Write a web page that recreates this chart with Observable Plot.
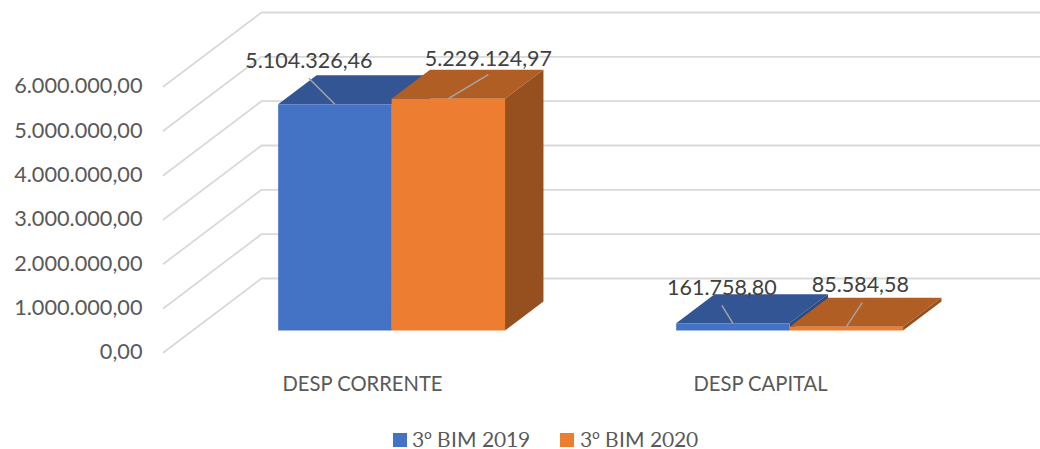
<!DOCTYPE html>
<html>
<head>
<meta charset="utf-8">
<script src="https://cdn.jsdelivr.net/npm/d3@7"></script>
<script src="https://cdn.jsdelivr.net/npm/@observablehq/plot@0.6"></script>
<style>
@font-face{font-family:LegendFace;src:local("Lato"),local("Lato Regular");ascent-override:90%;descent-override:6%}
@font-face{font-family:LegendFace;src:local("Noto Sans"),local("Noto Sans Regular");unicode-range:U+BA;ascent-override:90%;descent-override:6%}
html,body{margin:0;padding:0;background:#fff;overflow:hidden;width:1040px;height:449px}
#legend{position:relative;height:29px;font:20.8px LegendFace,Lato,sans-serif;color:#595959}
#legend .t{position:absolute;top:8px;line-height:21px;white-space:nowrap}
#legend i{position:absolute;top:13px;width:14px;height:14px}
</style>
</head>
<body>
<div id="chart"></div>
<div id="legend"></div>
<script>
const categories = ["DESP CORRENTE", "DESP CAPITAL"];
const seriesNames = ["3º BIM 2019", "3º BIM 2020"];
const values2019 = [5104326.46, 161758.80];
const values2020 = [5229124.97, 85584.58];
const yTicks = [0, 1000000, 2000000, 3000000, 4000000, 5000000, 6000000];

// layout of the oblique "3D" projection
const W = 1040, H = 420, mL = 163, mR = 81, mT = 86, mB = H - 352;
const xMax = categories.length, yMax = 6000000;
const pxPerX = (W - mL - mR) / xMax, pxPerY = (H - mT - mB) / yMax;
const depthX = 98 / pxPerX, depthY = 74 / pxPerY;   // full floor depth in data units
const barFront = 0.297, barBack = 0.689, barW = 0.285;
const project = (x, v, d) => ({x: x + d * depthX, y: v + d * depthY});
const wallEnd = xMax + 0.1;

const shades = [
  {front: "#4472C4", top: "#335593", side: "#2A4A80"},
  {front: "#ED7D31", top: "#B15E24", side: "#964F1E"}
];
const series = [values2019, values2020];

// Back wall and left wall gridlines
const grid = yTicks.flatMap(v => [
  {v, ...project(0, v, 0)},
  {v, ...project(0, v, 1)},
  {v, ...project(wallEnd, v, 1)}
]);

// Box faces, drawn series by series
const faces = [];
const anchors = [];
categories.forEach((c, ci) => {
  series.forEach((vals, si) => {
    const v = vals[ci];
    const x0 = ci + 0.5 - barW + si * barW, x1 = x0 + barW;
    const add = (name, color, pts) => pts.forEach(p => faces.push({id: `${ci}-${si}-${name}`, color, ...p}));
    add("top", shades[si].top, [project(x0, v, barFront), project(x1, v, barFront), project(x1, v, barBack), project(x0, v, barBack)]);
    add("side", shades[si].side, [project(x1, 0, barFront), project(x1, v, barFront), project(x1, v, barBack), project(x1, 0, barBack)]);
    add("front", shades[si].front, [project(x0, 0, barFront), project(x1, 0, barFront), project(x1, v, barFront), project(x0, v, barFront)]);
    anchors.push({v, ...project((x0 + x1) / 2, v, barFront)});
  });
});

// Leader ends and label centres relative to each bar's top edge, in pixels
const leaderDx = [-26, 40, -11, 16];
const leaderDy = [-26, -24, -18, -24];
const labelDx = [-26, 40, -11, 14];
const labelDy = [-43, -40, -35, -42];
const loc = d3.formatLocale({decimal: ",", thousands: ".", grouping: [3], currency: ["", ""]});
const fmt = loc.format(",.2f");
const labelled = anchors.map((a, i) => ({
  ...a,
  lx: a.x + leaderDx[i] / pxPerX,
  ly: a.y - leaderDy[i] / pxPerY,
  tx: a.x + labelDx[i] / pxPerX,
  ty: a.y - labelDy[i] / pxPerY,
  label: fmt(a.v)
}));

const plot = Plot.plot({
  width: W, height: H,
  marginLeft: mL, marginRight: mR, marginTop: mT, marginBottom: mB,
  style: {fontFamily: "Lato, sans-serif", overflow: "hidden", background: "#fff"},
  x: {domain: [0, xMax]},
  y: {domain: [0, yMax]},
  marks: [
    Plot.line(grid, {x: "x", y: "y", z: "v", stroke: "#D9D9D9", strokeWidth: 1.8}),
    Plot.line(faces, {x: "x", y: "y", z: "id", fill: "color", stroke: "none"}),
    Plot.link(labelled, {x1: "x", y1: "y", x2: "lx", y2: "ly", stroke: "#A6A6A6", strokeWidth: 1.4}),
    Plot.text(labelled, {x: "tx", y: "ty", text: "label", fontSize: 21.5, fill: "#404040"}),
    Plot.axisY({ticks: yTicks, tickFormat: fmt, tickSize: 0, tickPadding: 21, fontSize: 21.7, dy: 0, color: "#595959", label: null}),
    Plot.axisX({ticks: categories.map((c, i) => i + 0.5), tickFormat: d => categories[Math.floor(d)], tickSize: 0, tickPadding: 24, fontSize: 20.2, color: "#595959", label: null})
  ]
});
document.getElementById("chart").appendChild(plot);

const legend = document.getElementById("legend");
const swatchX = [393, 560], textX = [412, 580];
seriesNames.forEach((n, i) => {
  const sw = document.createElement("i");
  sw.style.left = swatchX[i] + "px";
  sw.style.background = shades[i].front;
  const t = document.createElement("span");
  t.className = "t";
  t.style.left = textX[i] + "px";
  t.textContent = n;
  legend.append(sw, t);
});
</script>
</body>
</html>
